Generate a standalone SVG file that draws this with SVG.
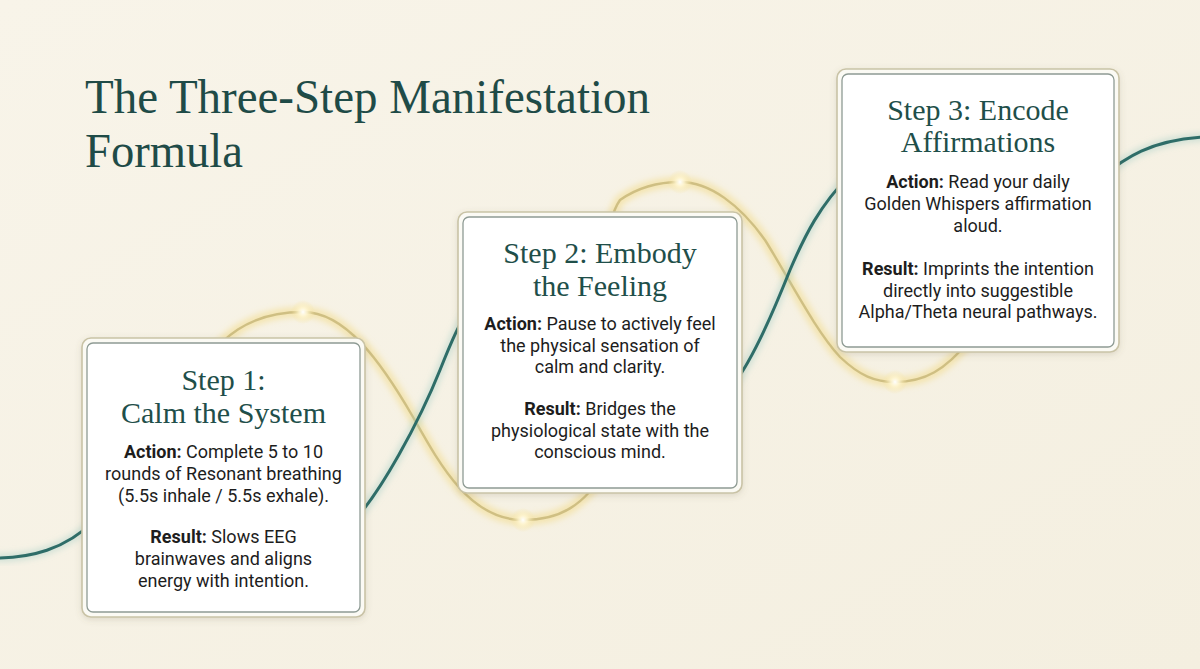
<svg xmlns="http://www.w3.org/2000/svg" width="1200" height="669" viewBox="0 0 1200 669">
  <defs>
    <linearGradient id="bg" x1="0" y1="0" x2="1" y2="1">
      <stop offset="0" stop-color="#f8f4e9"/>
      <stop offset="1" stop-color="#f4efe0"/>
    </linearGradient>
    <filter id="blur" x="-20%" y="-20%" width="140%" height="140%">
      <feGaussianBlur stdDeviation="3"/>
    </filter>
    <filter id="shadow" x="-10%" y="-10%" width="120%" height="120%">
      <feDropShadow dx="0" dy="2" stdDeviation="3" flood-color="#6b6448" flood-opacity="0.18"/>
    </filter>
    <radialGradient id="spark">
      <stop offset="0" stop-color="#ffffff" stop-opacity="1"/>
      <stop offset="0.35" stop-color="#fff6d2" stop-opacity="0.85"/>
      <stop offset="1" stop-color="#f5e3a0" stop-opacity="0"/>
    </radialGradient>
    <style>
      .title { font-family: "Liberation Serif", "DejaVu Serif", serif; font-size: 48px; fill: #1f4b47; }
      .head { font-family: "Liberation Serif", "DejaVu Serif", serif; font-size: 30px; fill: #1f4f4a; text-anchor: middle; }
      .body { font-family: Roboto, "Liberation Sans", sans-serif; font-size: 18px; fill: #1d1d1d; text-anchor: middle; }
      .b { font-weight: bold; }
      .outer { fill: #fbfaf4; stroke: #c9c3a6; stroke-width: 1.6; }
      .inner { fill: #ffffff; stroke: #8e9b94; stroke-width: 1.3; }
      .teal-halo { fill: none; stroke: #9fcbc3; stroke-width: 8; stroke-opacity: 0.45; filter: url(#blur); }
      .teal { fill: none; stroke: #2e6d68; stroke-width: 3; stroke-linecap: round; }
      .gold-halo { fill: none; stroke: #f2d77a; stroke-width: 10; stroke-opacity: 0.5; filter: url(#blur); }
      .gold { fill: none; stroke: #cfbf83; stroke-width: 2.4; stroke-linecap: round; }
    </style>
  </defs>

  <rect x="0" y="0" width="1200" height="669" fill="url(#bg)"/>

  <g id="title">
    <text class="title" x="85" y="113" textLength="565" lengthAdjust="spacingAndGlyphs">The Three-Step Manifestation</text>
    <text class="title" x="85" y="167" textLength="158" lengthAdjust="spacingAndGlyphs">Formula</text>
  </g>

  <g id="connectors">
    <!-- gold wave -->
    <path class="gold-halo" d="M190,392 C215,332 255,312 303,312 C345,312 380,360 413,417 C440,465 470,520 523,520 C560,520 585,505 605,470 C630,420 585,250 620,200 C640,186 660,182 680,182 C710,182 740,205 765,240 C790,280 815,330 840,357 C860,376 875,382 895,382 C925,382 945,370 970,340 C985,320 990,300 1000,280"/>
    <path class="gold" d="M190,392 C215,332 255,312 303,312 C345,312 380,360 413,417 C440,465 470,520 523,520 C560,520 585,505 605,470 C630,420 585,250 620,200 C640,186 660,182 680,182 C710,182 740,205 765,240 C790,280 815,330 840,357 C860,376 875,382 895,382 C925,382 945,370 970,340 C985,320 990,300 1000,280"/>
    <!-- teal wave segments -->
    <path class="teal-halo" d="M-5,558 C30,558 65,550 95,520"/>
    <path class="teal" d="M-5,558 C30,558 65,550 95,520"/>
    <path class="teal-halo" d="M350,525 C380,495 420,420 440,370 C450,345 460,320 475,300"/>
    <path class="teal" d="M350,525 C380,495 420,420 440,370 C450,345 460,320 475,300"/>
    <path class="teal-halo" d="M728,392 C750,365 770,320 790,270 C805,235 820,205 850,175"/>
    <path class="teal" d="M728,392 C750,365 770,320 790,270 C805,235 820,205 850,175"/>
    <path class="teal-halo" d="M1100,178 C1125,158 1150,140 1205,137"/>
    <path class="teal" d="M1100,178 C1125,158 1150,140 1205,137"/>
    <!-- sparkles -->
    <circle cx="303" cy="312" r="12" fill="url(#spark)"/>
    <circle cx="523" cy="520" r="12" fill="url(#spark)"/>
    <circle cx="680" cy="182" r="12" fill="url(#spark)"/>
    <circle cx="895" cy="382" r="12" fill="url(#spark)"/>
  </g>

  <g id="step1">
    <rect class="outer" x="82" y="338" width="283" height="279" rx="9" filter="url(#shadow)"/>
    <rect class="inner" x="87" y="343" width="273" height="269" rx="6"/>
    <text class="head" x="223.5" y="390">Step 1:</text>
    <text class="head" x="223.5" y="423">Calm the System</text>
    <text class="body" x="223.5" y="458"><tspan class="b">Action:</tspan> Complete 5 to 10</text>
    <text class="body" x="223.5" y="480">rounds of Resonant breathing</text>
    <text class="body" x="223.5" y="502">(5.5s inhale / 5.5s exhale).</text>
    <text class="body" x="223.5" y="543"><tspan class="b">Result:</tspan> Slows EEG</text>
    <text class="body" x="223.5" y="565">brainwaves and aligns</text>
    <text class="body" x="223.5" y="587">energy with intention.</text>
  </g>

  <g id="step2">
    <rect class="outer" x="458" y="212" width="284" height="281" rx="9" filter="url(#shadow)"/>
    <rect class="inner" x="463" y="217" width="274" height="271" rx="6"/>
    <text class="head" x="600" y="263">Step 2: Embody</text>
    <text class="head" x="600" y="296">the Feeling</text>
    <text class="body" x="600" y="330"><tspan class="b">Action:</tspan> Pause to actively feel</text>
    <text class="body" x="600" y="352">the physical sensation of</text>
    <text class="body" x="600" y="373">calm and clarity.</text>
    <text class="body" x="600" y="415"><tspan class="b">Result:</tspan> Bridges the</text>
    <text class="body" x="600" y="437">physiological state with the</text>
    <text class="body" x="600" y="458">conscious mind.</text>
  </g>

  <g id="step3">
    <rect class="outer" x="837" y="69" width="282" height="283" rx="9" filter="url(#shadow)"/>
    <rect class="inner" x="842" y="74" width="272" height="273" rx="6"/>
    <text class="head" x="978" y="120">Step 3: Encode</text>
    <text class="head" x="978" y="152">Affirmations</text>
    <text class="body" x="978" y="188"><tspan class="b">Action:</tspan> Read your daily</text>
    <text class="body" x="978" y="210">Golden Whispers affirmation</text>
    <text class="body" x="978" y="232">aloud.</text>
    <text class="body" x="978" y="275"><tspan class="b">Result:</tspan> Imprints the intention</text>
    <text class="body" x="978" y="297">directly into suggestible</text>
    <text class="body" x="978" y="318">Alpha/Theta neural pathways.</text>
  </g>
</svg>
